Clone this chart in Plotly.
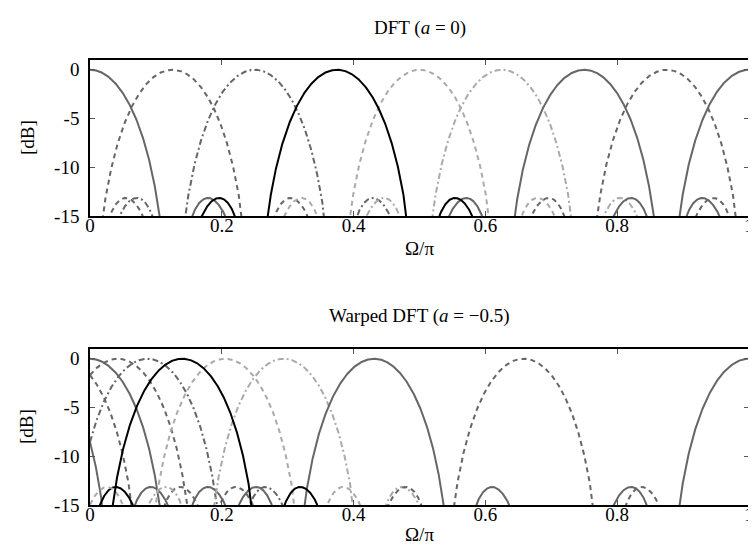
import numpy as np
import plotly.graph_objects as go

# ---- data ----
# channel centre frequencies (Omega/pi) of the 9 displayed channels
dft_centers = [0.0, 0.125, 0.25, 0.375, 0.5, 0.625, 0.75, 0.875, 1.0]
warped_centers = [0.0, 0.042, 0.087, 0.14, 0.205, 0.294, 0.431, 0.658, 1.0]
window_length = 16          # from main-lobe width (zeros at +-0.125)
x_ticks = [0, 0.2, 0.4, 0.6, 0.8, 1.0]
x_ticklabels = ["0", "0.2", "0.4", "0.6", "0.8", "1"]
y_ticks = [0, -5, -10, -15]
y_ticklabels = ["0", "-5", "-10", "-15"]
panel_titles = ["DFT (<i>a</i> = 0)", "Warped DFT (<i>a</i> = −0.5)"]

# ---- styles ----
G, K, L = "#666666", "#000000", "#aaaaaa"
DASH = "5px,4px"
DDOT = "6px,3px,2px,3px"
styles = [(G, "solid"), (G, DASH), (G, DDOT), (K, "solid"), (L, DASH),
          (L, DDOT), (G, "solid"), (G, DASH), (G, "solid")]
mirror_styles = list(styles)
mirror_styles[2] = (G, "solid")

omega = np.linspace(0, 1, 3001)


def response_db(center):
    x = np.pi * (omega - center)
    num = np.sin(window_length * x / 2)
    den = window_length * np.sin(x / 2)
    safe = np.where(np.abs(den) < 1e-12, 1.0, den)
    r = np.where(np.abs(den) < 1e-12, 1.0, num / safe)
    return 20 * np.log10(np.maximum(np.abs(r), 1e-4))


fig = go.Figure()
for p, centers in enumerate([dft_centers, warped_centers]):
    xa = "x" if p == 0 else "x2"
    ya = "y" if p == 0 else "y2"
    # negative-frequency images first
    for k in range(1, 8):
        col, dash = mirror_styles[k]
        fig.add_trace(go.Scatter(x=omega, y=response_db(-centers[k]), mode="lines",
                                 line=dict(color=col, width=2, dash=dash),
                                 xaxis=xa, yaxis=ya, hoverinfo="skip", showlegend=False))
    for k in [0, 1, 2, 4, 5, 6, 7, 8, 3]:
        col, dash = styles[k]
        fig.add_trace(go.Scatter(x=omega, y=response_db(centers[k]), mode="lines",
                                 line=dict(color=col, width=2, dash=dash),
                                 xaxis=xa, yaxis=ya, hoverinfo="skip", showlegend=False))

font = dict(family="Liberation Serif, DejaVu Serif, serif", size=19, color="black")
axis_common = dict(showline=True, linecolor="black", linewidth=1.5, mirror="ticks",
                   ticks="inside", ticklen=5, tickcolor="#555555", tickwidth=1,
                   showgrid=False, zeroline=False, tickfont=font)

top_dom = [0.6494, 1.0]
bot_dom = [0.0, 0.3506]
fig.update_layout(
    width=756, height=548,
    margin=dict(l=82, r=10, t=52, b=51),
    paper_bgcolor="white", plot_bgcolor="white",
    font=font,
    xaxis=dict(domain=[0, 1], range=[0, 1], tickvals=x_ticks, ticktext=x_ticklabels,
               anchor="y", ticklabelstandoff=-9, **axis_common),
    yaxis=dict(domain=top_dom, range=[-15, 1], tickvals=y_ticks, ticktext=y_ticklabels,
               anchor="x", ticklabelstandoff=5, **axis_common),
    xaxis2=dict(domain=[0, 1], range=[0, 1], tickvals=x_ticks, ticktext=x_ticklabels,
                anchor="y2", ticklabelstandoff=-9, **axis_common),
    yaxis2=dict(domain=bot_dom, range=[-15, 1], tickvals=y_ticks, ticktext=y_ticklabels,
                anchor="x2", ticklabelstandoff=5, **axis_common),
)

ann = []
ann.append(dict(text=panel_titles[0], x=0.5, y=1.0719, xref="paper", yref="paper",
                showarrow=False, font=font, xanchor="center", yanchor="middle"))
ann.append(dict(text=panel_titles[1], x=0.5, y=0.4247, xref="paper", yref="paper",
                showarrow=False, font=font, xanchor="center", yanchor="middle"))
ann.append(dict(text="Ω/π", x=0.5, y=0.5775, xref="paper", yref="paper",
                showarrow=False, font=font, xanchor="center", yanchor="middle"))
ann.append(dict(text="Ω/π", x=0.5, y=-0.0674, xref="paper", yref="paper",
                showarrow=False, font=font, xanchor="center", yanchor="middle"))
for yc in [(top_dom[0] + top_dom[1]) / 2, (bot_dom[0] + bot_dom[1]) / 2]:
    ann.append(dict(text="[dB]", x=0, xshift=-63, y=yc, xref="paper", yref="paper",
                    showarrow=False, font=font, textangle=-90,
                    xanchor="center", yanchor="middle"))
fig.update_layout(annotations=ann)

fig.write_html("out.html")
